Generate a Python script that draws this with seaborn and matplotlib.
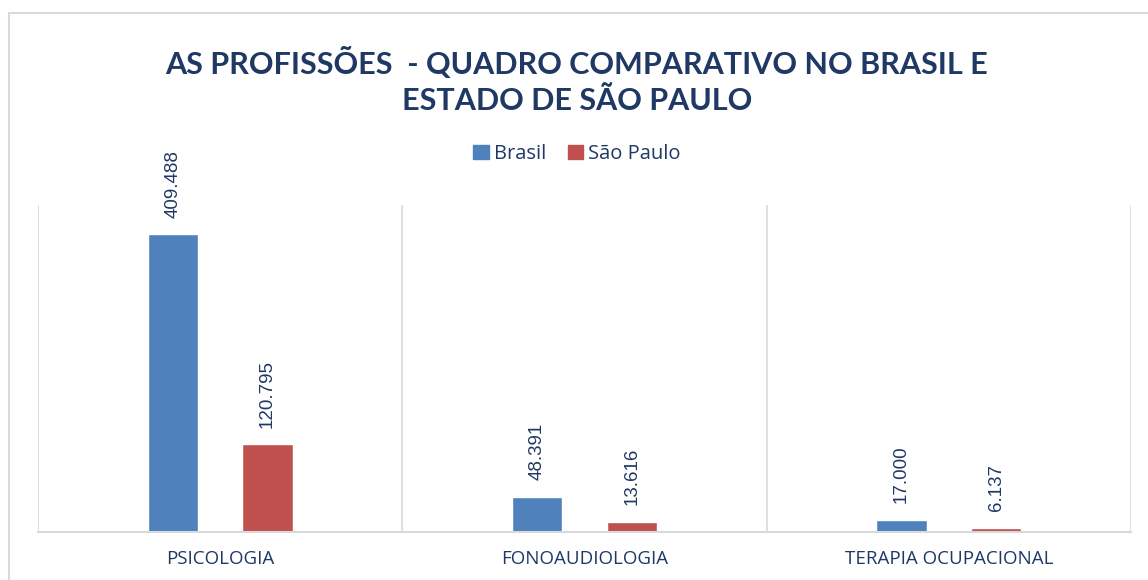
import matplotlib.pyplot as plt
import matplotlib.patches as mpatches
import seaborn as sns
import pandas as pd

categorias = ["PSICOLOGIA", "FONOAUDIOLOGIA", "TERAPIA OCUPACIONAL"]
brasil = [409488, 48391, 17000]
sao_paulo = [120795, 13616, 6137]
series = ["Brasil", "São Paulo"]
cores = ["#4F81BD", "#C0504D"]
texto = "#1F3864"

df = pd.DataFrame({
    "categoria": categorias * 2,
    "valor": brasil + sao_paulo,
    "serie": [series[0]] * 3 + [series[1]] * 3,
})

sns.set_style("white")
plt.rcParams['font.family'] = ['Open Sans', 'DejaVu Sans']

fig = plt.figure(figsize=(11.48, 5.8), dpi=100)
ax = fig.add_axes([38 / 1148, 1 - 532 / 580, (1131 - 38) / 1148, (532 - 205) / 580])

sns.barplot(data=df, x="categoria", y="valor", hue="serie", palette=cores,
            saturation=1, width=0.52, gap=0.47, ax=ax, legend=False)

for cont in ax.containers:
    ax.bar_label(cont, labels=[f"{v:,.0f}".replace(",", ".") for v in cont.datavalues],
                 rotation=90, padding=12, fontsize=13.5, color=texto,
                 family=['Liberation Sans', 'DejaVu Sans'])

ax.set_xlim(-0.5, 2.5)
ax.set_ylim(0, 450000)
ax.set_yticks([])
ax.set_xlabel("")
ax.set_ylabel("")
ax.tick_params(axis="x", length=0, pad=13, labelsize=13.5, labelcolor=texto)

for x in [-0.5, 0.5, 1.5, 2.5]:
    ax.axvline(x, color="#D9D9D9", lw=1.2, zorder=0)
for s in ["top", "left", "right"]:
    ax.spines[s].set_visible(False)
ax.spines["bottom"].set_color("#D9D9D9")
ax.spines["bottom"].set_linewidth(1.5)

fig.text(577 / 1148, 1 - 81 / 580,
         "AS PROFISSÕES  - QUADRO COMPARATIVO NO BRASIL E\nESTADO DE SÃO PAULO",
         ha="center", va="center", fontsize=22, fontweight="bold",
         color=texto, family=['Lato', 'DejaVu Sans'], linespacing=1.38)

handles = [mpatches.Patch(color=c, label=s) for c, s in zip(cores, series)]
leg = fig.legend(handles=handles, loc="center", bbox_to_anchor=(577 / 1148, 1 - 154 / 580),
                 ncol=2, frameon=False, fontsize=14.5, handlelength=0.75, handleheight=0.75,
                 handletextpad=0.25, columnspacing=1.1)
for t in leg.get_texts():
    t.set_color(texto)

fig.patches.append(mpatches.Rectangle((9 / 1148, -0.1), 1.2, 1 - 13 / 580 + 0.1,
                                      transform=fig.transFigure, fill=False,
                                      edgecolor="#D9D9D9", lw=1.5, zorder=0))

fig.savefig("out.png", dpi=100)
